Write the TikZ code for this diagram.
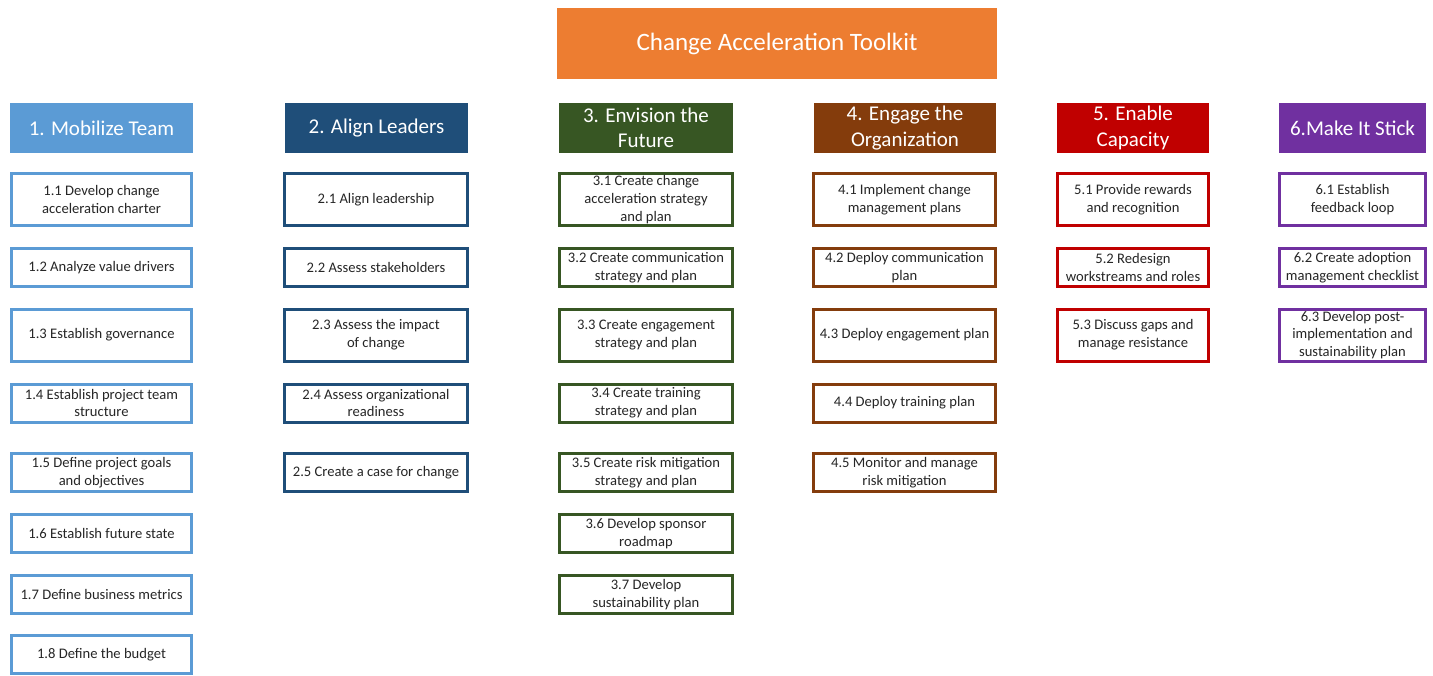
\documentclass[tikz,border=0pt]{standalone}
\usepackage{fontspec}
\setmainfont{Carlito}
\usepackage{xcolor}
\usepackage{tikz}
\usetikzlibrary{positioning}

\definecolor{toolkit}{HTML}{ED7D31}
\definecolor{mobilize}{HTML}{5B9BD5}
\definecolor{align}{HTML}{1F4E79}
\definecolor{envision}{HTML}{375623}
\definecolor{engage}{HTML}{843C0C}
\definecolor{enable}{HTML}{C00000}
\definecolor{stick}{HTML}{7030A0}
\definecolor{tasktext}{HTML}{262626}

\begin{document}
\begin{tikzpicture}[
			x=1pt, y=-1pt,
			title/.style={fill=toolkit, text=white, minimum width=440pt, minimum height=71pt, font=\fontsize{25}{29}\selectfont},
			phase/.style={fill=#1, text=white, align=center, inner sep=0pt, minimum height=50pt, font=\fontsize{21}{25.5}\selectfont},
			task/.style={draw=#1, line width=3pt, fill=white, text=tasktext, align=center, inner sep=1pt, minimum height=38pt, font=\fontsize{14.6}{17.8}\selectfont},
			tall/.style={minimum height=52pt}
		]

		\useasboundingbox (0,0) rectangle (1433,675);

		% Draw the title
		\node[title] (toolkit) at (777,43.5) {Change Acceleration Toolkit};

		% Draw the phase headers
		\node[phase=mobilize, minimum width=183pt] (mobilize) at (101.5,128) {1. Mobilize Team};
		\node[phase=align, minimum width=183pt] (align) at (376.5,128) {2. Align Leaders};
		\node[phase=envision, minimum width=174pt] (envision) at (646,128) {3. Envision the\\Future};
		\node[phase=engage, minimum width=182pt] (engage) at (905,128) {4. Engage the\\Organization};
		\node[phase=enable, minimum width=152pt] (enable) at (1133,128) {5. Enable\\Capacity};
		\node[phase=stick, minimum width=147pt] (stick) at (1352.5,128) {6.Make It Stick};

		% Draw the tasks of phase 1
		\node[task=mobilize, tall, minimum width=180pt] (t11) at (101.5,199.5) {1.1 Develop change\\acceleration charter};
		\node[task=mobilize, minimum width=180pt] (t12) at (101.5,267.5) {1.2 Analyze value drivers};
		\node[task=mobilize, tall, minimum width=180pt] (t13) at (101.5,335) {1.3 Establish governance};
		\node[task=mobilize, minimum width=180pt] (t14) at (101.5,403) {1.4 Establish project team\\structure};
		\node[task=mobilize, minimum width=180pt] (t15) at (101.5,472.5) {1.5 Define project goals\\and objectives};
		\node[task=mobilize, minimum width=180pt] (t16) at (101.5,533.5) {1.6 Establish future state};
		\node[task=mobilize, minimum width=180pt] (t17) at (101.5,594.5) {1.7 Define business metrics};
		\node[task=mobilize, minimum width=180pt] (t18) at (101.5,654.5) {1.8 Define the budget};

		% Draw the tasks of phase 2
		\node[task=align, tall, minimum width=183pt] (t21) at (376,199.5) {2.1 Align leadership};
		\node[task=align, minimum width=183pt] (t22) at (376,267.5) {2.2 Assess stakeholders};
		\node[task=align, tall, minimum width=183pt] (t23) at (376,335) {2.3 Assess the impact\\of change};
		\node[task=align, minimum width=183pt] (t24) at (376,403) {2.4 Assess organizational\\readiness};
		\node[task=align, minimum width=183pt] (t25) at (376,472.5) {2.5 Create a case for change};

		% Draw the tasks of phase 3
		\node[task=envision, tall, minimum width=173pt] (t31) at (646,199.5) {3.1 Create change\\acceleration strategy\\and plan};
		\node[task=envision, minimum width=173pt] (t32) at (646,267.5) {3.2 Create communication\\strategy and plan};
		\node[task=envision, tall, minimum width=173pt] (t33) at (646,335) {3.3 Create engagement\\strategy and plan};
		\node[task=envision, minimum width=173pt] (t34) at (646,403) {3.4 Create training\\strategy and plan};
		\node[task=envision, minimum width=173pt] (t35) at (646,472.5) {3.5 Create risk mitigation\\strategy and plan};
		\node[task=envision, minimum width=173pt] (t36) at (646,533.5) {3.6 Develop sponsor\\roadmap};
		\node[task=envision, minimum width=173pt] (t37) at (646,594.5) {3.7 Develop\\sustainability plan};

		% Draw the tasks of phase 4
		\node[task=engage, tall, minimum width=182pt] (t41) at (904.5,199.5) {4.1 Implement change\\management plans};
		\node[task=engage, minimum width=182pt] (t42) at (904.5,267.5) {4.2 Deploy communication\\plan};
		\node[task=engage, tall, minimum width=182pt] (t43) at (904.5,335) {4.3 Deploy engagement plan};
		\node[task=engage, minimum width=182pt] (t44) at (904.5,403) {4.4 Deploy training plan};
		\node[task=engage, minimum width=182pt] (t45) at (904.5,472.5) {4.5 Monitor and manage\\risk mitigation};

		% Draw the tasks of phase 5
		\node[task=enable, tall, minimum width=151pt] (t51) at (1133,199.5) {5.1 Provide rewards\\and recognition};
		\node[task=enable, minimum width=151pt] (t52) at (1133,267.5) {5.2 Redesign\\workstreams and roles};
		\node[task=enable, tall, minimum width=151pt] (t53) at (1133,335) {5.3 Discuss gaps and\\manage resistance};

		% Draw the tasks of phase 6
		\node[task=stick, tall, minimum width=146pt] (t61) at (1352.5,199.5) {6.1 Establish\\feedback loop};
		\node[task=stick, minimum width=146pt] (t62) at (1352.5,267.5) {6.2 Create adoption\\management checklist};
		\node[task=stick, tall, minimum width=146pt] (t63) at (1352.5,335) {6.3 Develop post-\\implementation and\\sustainability plan};

		\end{tikzpicture}
\end{document}
